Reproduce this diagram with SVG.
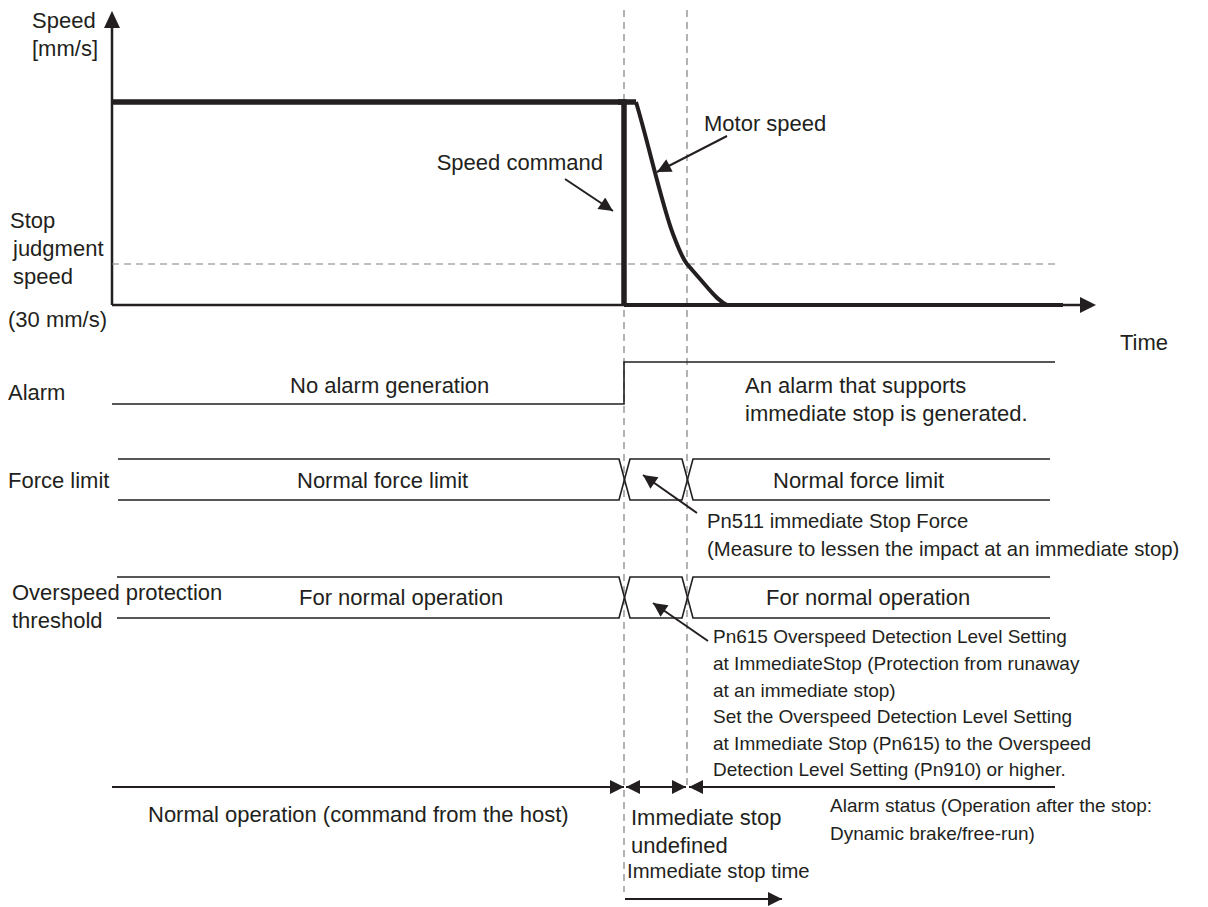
<svg xmlns="http://www.w3.org/2000/svg" width="1208" height="907" viewBox="0 0 1208 907">
<style>
text{font-family:"Liberation Sans",Arial,sans-serif;fill:#231f20;font-size:22px}
.s{font-size:19px}
.m{font-size:20.3px}
.ln{fill:none;stroke:#231f20;stroke-width:1.6}
.dash{fill:none;stroke:#808080;stroke-width:1.2;stroke-dasharray:7 5}
.ar{fill:none;stroke:#231f20;stroke-width:2}
</style>
<defs>
<marker id="ahB" viewBox="0 0 10 10" refX="10" refY="5" markerWidth="16" markerHeight="14" orient="auto" markerUnits="userSpaceOnUse"><path d="M0,0L10,5L0,10z" fill="#231f20"/></marker>
</defs>
<g id="axes">
<line x1="112" y1="305" x2="112" y2="26" stroke="#231f20" stroke-width="2.5"/>
<path d="M104,28L112,11L120,28z" fill="#231f20"/>
<line x1="112" y1="305" x2="1081" y2="305" stroke="#231f20" stroke-width="2.5"/>
<path d="M1080,297L1096,305L1080,313z" fill="#231f20"/>
<text x="32" y="28">Speed</text>
<text x="32" y="56">[mm/s]</text>
<text x="1120" y="350">Time</text>
</g>
<g id="guides">
<line class="dash" x1="624" y1="10" x2="624" y2="892"/>
<line class="dash" x1="687" y1="10" x2="687" y2="788"/>
<line class="dash" x1="112" y1="264" x2="1055" y2="264"/>
<text x="10" y="228">Stop</text>
<text x="13" y="256">judgment</text>
<text x="13" y="284">speed</text>
<text x="8" y="327">(30 mm/s)</text>
</g>
<g id="speed-command">
<path d="M112,102H624V305" fill="none" stroke="#231f20" stroke-width="5.5"/>
<path d="M618,102H636" fill="none" stroke="#231f20" stroke-width="5.5"/>
<text x="603" y="170" text-anchor="end">Speed command</text>
</g>
<g id="motor-speed">
<path d="M636,102C648,142 662,205 673,234C679,250 683,259 687,264L707,287C714,295 719,301 727,305H1063" fill="none" stroke="#231f20" stroke-width="4"/>
<line x1="624" y1="305" x2="727" y2="305" stroke="#231f20" stroke-width="4"/>
<text x="704" y="131">Motor speed</text>
</g>
<g id="alarm">
<text x="8" y="400">Alarm</text>
<path class="ln" d="M112,404H624V362H1055"/>
<text x="290" y="393">No alarm generation</text>
<text x="745" y="393">An alarm that supports</text>
<text x="745" y="421">immediate stop is generated.</text>
</g>
<g id="force-limit">
<text x="8" y="488">Force limit</text>
<path class="ln" d="M118,459H619L630,500H682L693,459H1050"/>
<path class="ln" d="M118,500H619L630,459H682L693,500H1050"/>
<text x="297" y="488">Normal force limit</text>
<text x="773" y="488">Normal force limit</text>
<text class="m" x="707" y="528">Pn511 immediate Stop Force</text>
<text class="m" x="707" y="556">(Measure to lessen the impact at an immediate stop)</text>
</g>
<g id="overspeed">
<text x="12" y="600">Overspeed protection</text>
<text x="12" y="628">threshold</text>
<path class="ln" d="M117,577H619L630,618H682L693,577H1050"/>
<path class="ln" d="M117,618H619L630,577H682L693,618H1050"/>
<text x="299" y="605">For normal operation</text>
<text x="766" y="605">For normal operation</text>
<text class="s" x="713" y="643">Pn615 Overspeed Detection Level Setting</text>
<text class="s" x="713" y="670">at ImmediateStop (Protection from runaway</text>
<text class="s" x="713" y="697">at an immediate stop)</text>
<text class="s" x="713" y="723">Set the Overspeed Detection Level Setting</text>
<text class="s" x="713" y="750">at Immediate Stop (Pn615) to the Overspeed</text>
<text class="s" x="713" y="776">Detection Level Setting (Pn910) or higher.</text>
</g>
<g id="phases">
<text x="148" y="822">Normal operation (command from the host)</text>
<text x="631" y="825">Immediate stop</text>
<text x="631" y="853">undefined</text>
<text class="m" x="627" y="878">Immediate stop time</text>
<text class="s" x="830" y="812">Alarm status (Operation after the stop:</text>
<text class="s" x="830" y="840">Dynamic brake/free-run)</text>
</g>
<g id="connectors">
<line class="ar" x1="565" y1="179" x2="613" y2="211" marker-end="url(#ahB)"/>
<line class="ar" x1="727" y1="136" x2="657" y2="172" marker-end="url(#ahB)"/>
<line class="ar" x1="697" y1="513" x2="643" y2="475" marker-end="url(#ahB)"/>
<line class="ar" x1="708" y1="641" x2="653" y2="603" marker-end="url(#ahB)"/>
<line class="ar" x1="112" y1="787" x2="624" y2="787" marker-end="url(#ahB)"/>
<line class="ar" x1="656" y1="787" x2="626" y2="787" marker-end="url(#ahB)"/>
<line class="ar" x1="656" y1="787" x2="686" y2="787" marker-end="url(#ahB)"/>
<line class="ar" x1="1055" y1="787" x2="689" y2="787" marker-end="url(#ahB)"/>
<line class="ar" x1="625" y1="899" x2="782" y2="899" marker-end="url(#ahB)"/>
</g>
</svg>
